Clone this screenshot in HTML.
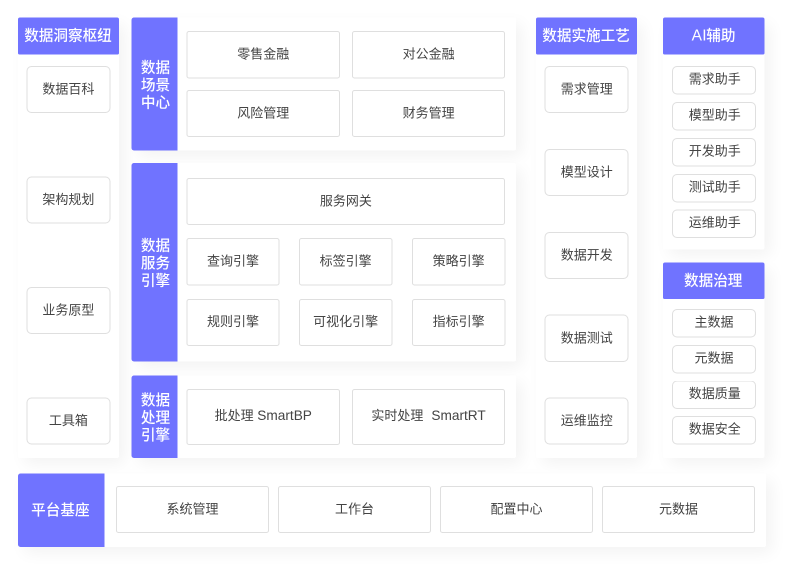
<!DOCTYPE html>
<html lang="zh-CN">
<head>
<meta charset="utf-8">
<title>数据平台架构</title>
<style>
html,body{margin:0;padding:0;}
body{width:800px;height:566px;background:#fff;position:relative;overflow:hidden;
  font-family:"Liberation Sans","Noto Sans CJK SC",sans-serif;}
#root{position:absolute;left:0;top:0;width:1600px;height:1132px;transform:scale(0.5);transform-origin:0 0;will-change:transform;}
.p{position:absolute;background:#fff;border-radius:4px;box-shadow:12px 12px 32px rgba(0,0,0,0.05);}
.h,.s{position:absolute;background:#7073ff;color:#fff;font-size:29.2px;display:flex;align-items:center;justify-content:center;white-space:nowrap;}
.h{border-radius:4px 4px 3px 3px;font-weight:500;}
.s{border-radius:5px 0 0 5px;flex-direction:column;line-height:34.8px;font-weight:500;}
.s span{position:relative;left:2.4px;top:2.2px;}
.h span{position:relative;top:-4px;left:-1px;}
.base{border-radius:5px 0 0 5px;}
.base span{top:-3.2px;left:-1.6px;}
.h i{font-style:normal;font-size:31px;letter-spacing:0.6px;position:relative;left:1.4px;}
.b{position:absolute;box-sizing:border-box;border:2px solid #dfdfdf;border-radius:10px;background:#fff;color:#444;font-weight:400;
  font-size:26px;display:flex;align-items:center;justify-content:center;white-space:nowrap;}
.b span{position:relative;top:-3.4px;}
.r3 span{top:-3.8px;}
.r3{border-radius:5px;}
.sm span{top:-5px;left:1.4px;}
.c3 span{left:0;}
.big span{top:-5.2px;}
.b i{font-style:normal;font-size:27.3px;}
</style>
</head>
<body>
<div id="root">
<div class="p" style="left:35.6px;top:35.6px;width:202.8px;height:880.4px"></div>
<div class="p" style="left:262.5px;top:35.2px;width:769.9px;height:265.6px"></div>
<div class="p" style="left:262.5px;top:325.6px;width:769.9px;height:397px"></div>
<div class="p" style="left:262.5px;top:750.8px;width:769.9px;height:165.2px"></div>
<div class="p" style="left:1072.2px;top:34.8px;width:201.8px;height:881.2px"></div>
<div class="p" style="left:1326px;top:35.6px;width:202.8px;height:463.2px"></div>
<div class="p" style="left:1326px;top:524.8px;width:202.8px;height:391.2px"></div>
<div class="p" style="left:36px;top:946.8px;width:1496px;height:147.4px"></div>
<div class="h" style="left:35.6px;top:35.4px;width:202.8px;height:73.6px"><span>数据洞察枢纽</span></div>
<div class="h" style="left:1072.2px;top:35.4px;width:201.8px;height:73.6px"><span>数据实施工艺</span></div>
<div class="h" style="left:1326px;top:35.4px;width:202.8px;height:73.6px"><span><i>AI</i>辅助</span></div>
<div class="h" style="left:1326px;top:524.8px;width:202.8px;height:73.6px"><span>数据治理</span></div>
<div class="h base" style="left:36px;top:946.8px;width:172.6px;height:147.4px"><span>平台基座</span></div>
<div class="s" style="left:262.5px;top:35.2px;width:92.3px;height:265.6px"><span>数据</span><span>场景</span><span>中心</span></div>
<div class="s" style="left:262.5px;top:325.6px;width:92.3px;height:397px"><span>数据</span><span>服务</span><span>引擎</span></div>
<div class="s" style="left:262.5px;top:750.8px;width:92.3px;height:165.2px"><span>数据</span><span>处理</span><span>引擎</span></div>
<div class="b" style="left:53px;top:132px;width:167.5px;height:94.2px"><span>数据百科</span></div>
<div class="b" style="left:53px;top:353px;width:167.5px;height:94.2px"><span>架构规划</span></div>
<div class="b" style="left:53px;top:574px;width:167.5px;height:94.2px"><span>业务原型</span></div>
<div class="b" style="left:53px;top:795px;width:167.5px;height:94.2px"><span>工具箱</span></div>
<div class="b" style="left:1089.4px;top:132px;width:168.1px;height:94.2px"><span>需求管理</span></div>
<div class="b" style="left:1089.4px;top:298px;width:168.1px;height:94.2px"><span>模型设计</span></div>
<div class="b" style="left:1089.4px;top:464px;width:168.1px;height:94.2px"><span>数据开发</span></div>
<div class="b" style="left:1089.4px;top:629.4px;width:168.1px;height:94.2px"><span>数据测试</span></div>
<div class="b" style="left:1089.4px;top:795px;width:168.1px;height:94.2px"><span>运维监控</span></div>
<div class="b sm" style="left:1344px;top:132.2px;width:168px;height:56.8px"><span>需求助手</span></div>
<div class="b sm" style="left:1344px;top:204.2px;width:168px;height:56.8px"><span>模型助手</span></div>
<div class="b sm" style="left:1344px;top:276px;width:168px;height:56.8px"><span>开发助手</span></div>
<div class="b sm" style="left:1344px;top:348px;width:168px;height:56.8px"><span>测试助手</span></div>
<div class="b sm" style="left:1344px;top:419.4px;width:168px;height:56.8px"><span>运维助手</span></div>
<div class="b sm c3" style="left:1344px;top:618px;width:168px;height:56.8px"><span>主数据</span></div>
<div class="b sm c3" style="left:1344px;top:690px;width:168px;height:56.8px"><span>元数据</span></div>
<div class="b sm" style="left:1344px;top:761px;width:168px;height:56.8px"><span>数据质量</span></div>
<div class="b sm" style="left:1344px;top:832px;width:168px;height:56.8px"><span>数据安全</span></div>
<div class="b r3" style="left:373.2px;top:62.4px;width:306.8px;height:94.2px"><span>零售金融</span></div>
<div class="b r3" style="left:704px;top:62.4px;width:306.4px;height:94.2px"><span>对公金融</span></div>
<div class="b r3" style="left:373.2px;top:180px;width:306.8px;height:94.2px"><span>风险管理</span></div>
<div class="b r3" style="left:704px;top:180px;width:306.4px;height:94.2px"><span>财务管理</span></div>
<div class="b r3" style="left:373.2px;top:356px;width:637.2px;height:94.2px"><span>服务网关</span></div>
<div class="b r3" style="left:373.2px;top:476.4px;width:185.6px;height:94.2px"><span>查询引擎</span></div>
<div class="b r3" style="left:598px;top:476.4px;width:186.6px;height:94.2px"><span>标签引擎</span></div>
<div class="b r3" style="left:824px;top:476.4px;width:186.6px;height:94.2px"><span>策略引擎</span></div>
<div class="b r3" style="left:373.2px;top:597.6px;width:185.6px;height:94px"><span>规则引擎</span></div>
<div class="b r3" style="left:598px;top:597.6px;width:186.6px;height:94px"><span>可视化引擎</span></div>
<div class="b r3" style="left:824px;top:597.6px;width:186.6px;height:94px"><span>指标引擎</span></div>
<div class="b r3 big" style="left:373.2px;top:778px;width:306.8px;height:111.8px"><span>批处理 <i>SmartBP</i></span></div>
<div class="b r3 big" style="left:704px;top:778px;width:306.4px;height:111.8px"><span>实时处理&nbsp; <i style="margin-left:1.5px">SmartRT</i></span></div>
<div class="b r3" style="left:232px;top:972px;width:306px;height:94px"><span>系统管理</span></div>
<div class="b r3" style="left:556px;top:972px;width:306px;height:94px"><span>工作台</span></div>
<div class="b r3" style="left:880px;top:972px;width:306px;height:94px"><span>配置中心</span></div>
<div class="b r3" style="left:1204px;top:972px;width:306px;height:94px"><span>元数据</span></div>
</div>
</body>
</html>
